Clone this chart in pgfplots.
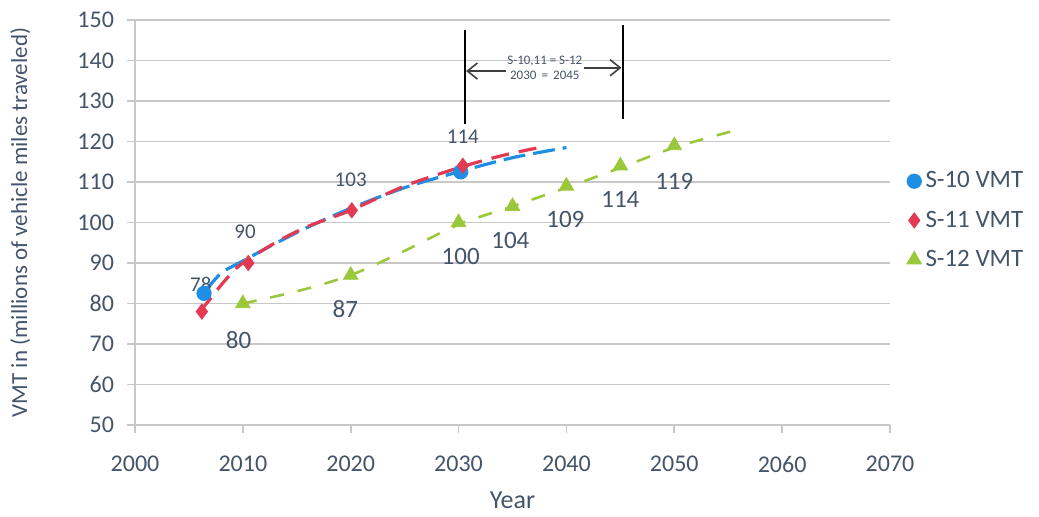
\documentclass[border=0pt]{standalone}
\usepackage{pgfplots}
\pgfplotsset{compat=1.18}
\usepackage{fontspec}
\setmainfont{Carlito}
\usetikzlibrary{arrows.meta}

\definecolor{txt}{HTML}{44546A}
\definecolor{sten}{HTML}{1F8FE5}
\definecolor{seleven}{HTML}{E23A52}
\definecolor{stwelve}{HTML}{9BC83A}
\definecolor{gridc}{HTML}{C8C8C8}

\begin{document}
\begin{tikzpicture}
\path[use as bounding box] (-67.5pt,-46pt) rectangle (452pt,212.5pt);
\begin{axis}[
  at={(0,0)}, anchor=south west,
  scale only axis, width=377.5pt, height=202.5pt,
  xmin=2000, xmax=2070, ymin=50, ymax=150,
  xtick={2000,2010,...,2070}, ytick={50,60,...,150},
  /pgf/number format/1000 sep={},
  /pgf/number format/assume math mode=true,
  ymajorgrids, major grid style={gridc, line width=0.8pt},
  axis line style={gridc, line width=0.8pt},
  axis x line*=bottom, axis y line*=left,
  tick style={gridc, line width=0.8pt},
  major tick length=4pt, tick align=outside,
  ticklabel style={font=\fontsize{12}{14}\selectfont, text=txt},
  xticklabel style={yshift=-8pt},
  yticklabel style={xshift=-3pt},
  xlabel={Year},
  every axis x label/.style={at={(axis description cs:0.5,-0.185)}, anchor=center,
    font=\fontsize{13}{15}\selectfont, text=txt},
  ylabel={VMT in (millions of vehicle miles traveled)},
  every axis y label/.style={at={(axis description cs:-0.152,0.5)}, anchor=center, rotate=90,
    font=\fontsize{11.5}{13}\selectfont, text=txt},
  legend style={at={(1.014,0.505)}, anchor=west, draw=none, fill=none,
    font=\fontsize{12.5}{14}\selectfont, text=txt, row sep=6pt},
  legend cell align=left,
  clip=false,
]
% trend curves
\addplot[forget plot, sten, line width=1.6pt, dash pattern=on 11pt off 4pt, smooth]
  coordinates {(2006.5,83) (2008,87.5) (2010,90.5) (2013,94.8) (2016,98.8)
               (2020,103.5) (2025,108.6) (2030,112.5) (2035,116) (2040,118.5)};
\addplot[forget plot, seleven, line width=1.6pt, dash pattern=on 9pt off 5pt, smooth]
  coordinates {(2006,78) (2007,81.2) (2008,84.6) (2009,87.6) (2010,90) (2013,95)
               (2016,99) (2020,103) (2025,109) (2030,113.5) (2034,116.5) (2038,118.8)};
\addplot[forget plot, stwelve, line width=1.3pt, dash pattern=on 7pt off 7pt, smooth]
  coordinates {(2010,80) (2015,83) (2020,87) (2025,93) (2030,99.5) (2035,104)
               (2040,108.6) (2045,113.5) (2050,118.5) (2056,123)};
% markers
\addplot[only marks, mark=*, mark size=3.6pt, sten, mark options={draw=sten, fill=sten}]
  coordinates {(2006.4,82.5) (2030.2,112.5)};
\addlegendentry{S-10 VMT}
\addplot[only marks, mark=diamond*, mark size=3.8pt, seleven, mark options={draw=seleven, fill=seleven}]
  coordinates {(2006.2,78) (2010.5,90) (2020.1,103) (2030.4,114)};
\addlegendentry{S-11 VMT}
\addplot[only marks, mark=triangle*, mark size=4.2pt, stwelve, mark options={draw=stwelve, fill=stwelve}]
  coordinates {(2010,80) (2020,87) (2030,100) (2035,104) (2040,109) (2045,114) (2050,119)};
\addlegendentry{S-12 VMT}
% value labels
\begin{scope}[every node/.style={text=txt, inner sep=1pt}]
\node[font=\fontsize{10.5}{12}\selectfont] at (axis cs:2006.1,84.6) {78};
\node[font=\fontsize{10.5}{12}\selectfont] at (axis cs:2010.2,97.8) {90};
\node[font=\fontsize{10.5}{12}\selectfont] at (axis cs:2020.0,110.5) {103};
\node[font=\fontsize{10.5}{12}\selectfont] at (axis cs:2030.4,121.2) {114};
\node[font=\fontsize{12.5}{14}\selectfont] at (axis cs:2009.6,71) {80};
\node[font=\fontsize{12.5}{14}\selectfont] at (axis cs:2019.5,78.7) {87};
\node[font=\fontsize{12.5}{14}\selectfont] at (axis cs:2030.2,91.7) {100};
\node[font=\fontsize{12.5}{14}\selectfont] at (axis cs:2034.8,95.6) {104};
\node[font=\fontsize{12.5}{14}\selectfont] at (axis cs:2039.9,100.8) {109};
\node[font=\fontsize{12.5}{14}\selectfont] at (axis cs:2045.0,105.7) {114};
\node[font=\fontsize{12.5}{14}\selectfont] at (axis cs:2050.0,110.2) {119};
\end{scope}
% shift annotation
\draw[black, line width=1pt] (axis cs:2030.6,147.6) -- (axis cs:2030.6,124.3);
\draw[black, line width=1pt] (axis cs:2045.2,148.8) -- (axis cs:2045.2,125.5);
\draw[-{Straight Barb[length=5pt,width=8pt]}, black!75, line width=0.8pt]
  (axis cs:2034.4,137.4) -- (axis cs:2030.7,137.4);
\draw[-{Straight Barb[length=5pt,width=8pt]}, black!75, line width=0.8pt]
  (axis cs:2041.6,138.2) -- (axis cs:2045.1,138.2);
\node[font=\fontsize{6.5}{7.5}\selectfont, text=txt, align=center] at (axis cs:2038,138.2)
  {S-10,11 = S-12\\2030 \,=\, 2045};
\end{axis}
\end{tikzpicture}
\end{document}
